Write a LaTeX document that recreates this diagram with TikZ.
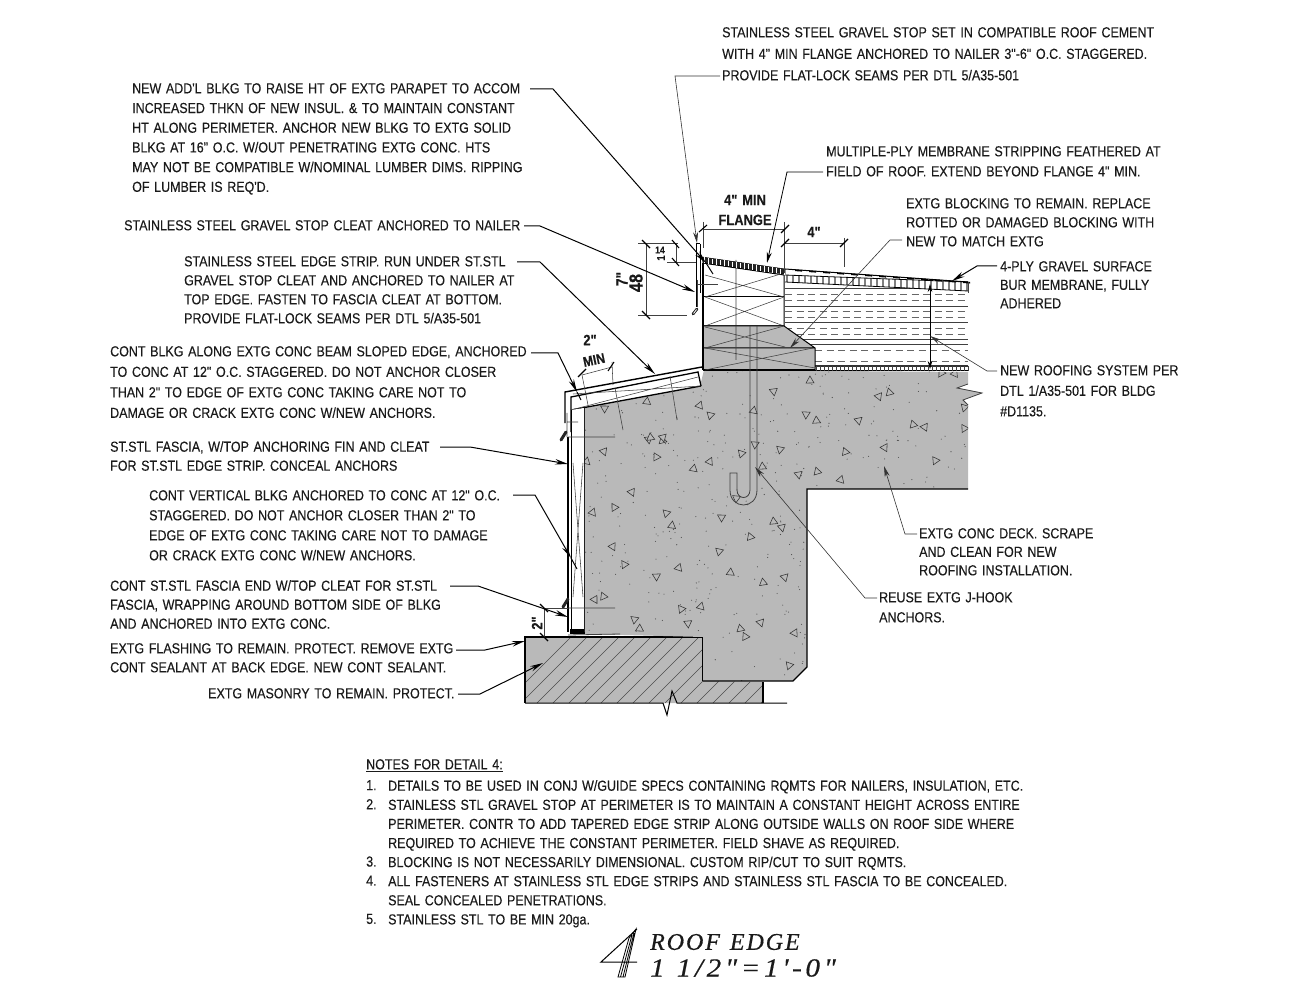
\documentclass[tikz,border=0pt]{standalone}
\usepackage{fontspec}
\usetikzlibrary{arrows.meta,patterns}
\newfontfamily\cadf[FakeStretch=0.86,WordSpace=1.35,FakeBold=0.25]{Liberation Sans}
\newfontfamily\titlef[LetterSpace=8,FakeBold=0.5]{Liberation Serif}
\newfontfamily\titleg[LetterSpace=14,FakeBold=0.5,FakeStretch=1.12]{Liberation Serif}
\definecolor{conc}{HTML}{B9B9B9}
\definecolor{ink}{HTML}{1A1A1A}
\tikzset{
 lbl/.style={anchor=north west,inner sep=0pt,align=left,text=ink,font=\cadf\fontsize{14.5}{#1}\selectfont},
 lbl/.default=19.7,
 dimtxt/.style={inner sep=0pt,text=ink,font=\cadf\bfseries\fontsize{15}{20}\selectfont},
 lead/.style={draw=black,line width=1pt,-{Stealth[length=13pt,width=5.5pt]}},
 thinlead/.style={draw=black!80,line width=.6pt,-{Stealth[length=11pt,width=5pt]}},
 heavy/.style={draw=black,line width=1.7pt},
 med/.style={draw=black,line width=1pt},
 fine/.style={draw=black!75,line width=.55pt},
 dimtick/.style={draw=black,line width=1.1pt},
 tri/.style={draw=black!80,line width=.55pt},
 clipmark/.style={draw=black!85,line width=3pt,line cap=round},
}
\begin{document}
\begin{tikzpicture}[x=1pt,y=-1pt]
\useasboundingbox (0,0) rectangle (1294,1000);
\def\concpath{(704,370) -- (968,372) -- (968,384) -- (957,388) -- (982,393) -- (963,400) -- (968,405) -- (968,489) -- (807,489) -- (807,667) -- (793,681) -- (703,681) -- (703,637) -- (584,634) -- (584,408) -- (700,386) -- cycle}
% masonry
\fill[conc] (525,637) -- (703,637) -- (703,681) -- (763,682) -- (763,703) -- (525,703) -- cycle;
\begin{scope}
\clip (525,637) -- (703,637) -- (703,681) -- (763,682) -- (763,703) -- (525,703) -- cycle;
\foreach \k in {0,16,...,270}{\draw[fine,black!70] (505+\k,703) -- (575+\k,633);}
\end{scope}
\draw[heavy,line width=1.2pt] (525,703) -- (525,637) -- (703,637) -- (703,681) (763,682) -- (763,703);
\draw[med] (525,703) -- (663,703) -- (667,715) -- (672,691) -- (677,703) -- (787,703);
% concrete
\fill[conc] \concpath;
\begin{scope}
\clip \concpath;
\pgfmathsetseed{11}
\foreach \i in {1,...,520}{\pgfmathsetmacro\px{575+rnd*400}\pgfmathsetmacro\py{370+rnd*315}\fill[black!70] (\px,\py) circle[radius=.55pt];}
\foreach \x/\y [count=\i] in {648/439,662/441,604/452,657/457,710/461,741/453,693/469,755/445,763/467,799/474,817/471,631/492,614/508,593/513,667/513,672/525,721/517,773/522,782/528,751/537,613/546,624/564,678/568,719/552,731/573,657/576,763/582,784/577,603/597,595/600,682/609,701/606,634/619,639/629,688/624,741/629,761/622,745/636,794/633,789/666,587/462,737/498,810/380,773/391,889/393,879/397,942/373,955/373,964/407,753/411,806/415,817/421,859/420,913/424,924/427,964/429,700/406,711/415,647/401,604/408,650/438,663/438,846/452,885/447,935/460,840/480,780/450}{
 \pgfmathsetmacro\rr{mod(\i*67,360)}
 \draw[tri,rotate around={\rr:(\x,\y)},fill=conc] (\x-4,\y+3) -- (\x+4,\y+3) -- (\x,\y-4) -- cycle;}
\end{scope}
\draw[med,line width=1.2pt] (968,489) -- (807,489) -- (807,667) -- (793,681) -- (703,681);
\draw[fine,line width=.8pt] (968,384) -- (957,388) -- (982,393) -- (963,400) -- (968,405);
\draw[heavy,line width=1.8pt] (584,408) -- (584,634);
% wedge blocking
\fill[white] (571,397) -- (698,372) -- (700,386) -- (571,410) -- cycle;
\draw[heavy,line width=1.4pt] (565,423) -- (565,392) -- (702,367) -- (704,370);
\draw[heavy,line width=1.3pt] (571,432) -- (571,397) -- (698,372) -- (701,386);
\draw[heavy,line width=1.3pt] (571,410) -- (701,386);
\draw[fine] (571,410) -- (698,377) (573,394) -- (701,386);
\draw[fine] (615,388) -- (623,430) (670,376) -- (677,420) (582,375) -- (588,405);
% vertical blocking
\fill[white] (571,410) -- (584,408) -- (584,632) -- (571,632) -- cycle;
\draw[med,line width=1.3pt] (568,437) -- (568,632);
\draw[med] (571,410) -- (571,632);
\draw[fine] (573,463) -- (583,597) (583,463) -- (573,597) (568,437) -- (615,437) (568,608) -- (615,608) (567,413) -- (567,437) (567,422) -- (578,422);
\fill[black] (570,629) rectangle (584,634);
\draw[fine,line width=.8pt] (568,635) -- (620,634);
\draw[clipmark] (561,440) -- (566,432);
\draw[clipmark] (563,607) -- (568,599);
% insulation
\foreach \yy in {306,322,339,344}{\draw[fine,line width=.9pt] (785,\yy) -- (968,\yy);}
\foreach \yy in {294,300,311,317,328,334}{\draw[fine,black!60,line width=.8pt,dash pattern=on 7pt off 4.5pt] (785,\yy) -- (968,\yy);}
\foreach \yy in {350,361}{\draw[fine,black!60,line width=.8pt,dash pattern=on 7pt off 4.5pt] (815,\yy) -- (968,\yy);}
\draw[fine,line width=.9pt] (785,288) -- (968,288);
\draw[heavy,line width=1.8pt,black!80] (815,366) -- (968,366);
\draw[med] (815,371) -- (968,371);
\foreach \k in {0,4,...,152}{\draw[fine] (816+\k,366) -- (816+\k,371);}
% nailers
\draw[med] (703,263) -- (784,275) -- (784,326) -- (703,326);
\draw[med] (703,297) -- (784,297);
\draw[fine] (705,297) -- (784,273) (705,275) -- (784,297) (705,297) -- (784,326) (705,326) -- (784,297) (736,260) -- (736,360);
% gray tapered block
\fill[conc] (703,326) -- (784,326) -- (815,348) -- (815,370) -- (703,370) -- cycle;
\draw[med] (703,326) -- (784,326) -- (815,348) -- (815,370) (703,348) -- (815,348);
\draw[med,line width=1.2pt] (703,370) -- (815,370);
\draw[fine] (705,327) -- (785,347) (784,326) -- (705,348) (705,348) -- (815,368) (813,348) -- (705,370) (736,326) -- (736,360);
% j-hook
\draw[fine,line width=.8pt] (750,326) -- (750,490) .. controls (750,500) and (737,500) .. (737,490) -- (737,473) -- (730,473) -- (730,490) .. controls (730,510) and (757,510) .. (757,490) -- (757,326);
% parapet edge and stop
\draw[heavy,line width=2pt] (703,263) -- (703,370);
\draw[med] (696,244) -- (696,307) (700,244) -- (700,293) (696,244) -- (700,244);
\draw[fine] (697,280) -- (697,307) (697,284) -- (718,284);
\draw[med,line width=2.8pt,black!85,line cap=round] (693,314) -- (697,309);
\draw[white,line width=.8pt] (693.5,313.5) -- (696.5,309.5);
% membrane
\fill[black!85,draw=black,line width=.5pt] (702,257) -- (785,269) -- (785,274) -- (703,263) -- cycle;
\foreach \k in {0,4,...,80}{\draw[white,line width=.5pt] (704+\k,257.5+.145*\k) -- (704+\k,263+.145*\k);}
\fill[white] (785,275) -- (968,282) -- (968,291) -- (785,282) -- cycle;
\foreach \k in {0,6,...,180}{\draw[black!50,line width=2.2pt] (787+\k,275+.038*\k) -- (787+\k,282+.05*\k);}
\draw[med] (785,269) -- (968,282);
\draw[med,line width=.8pt] (785,275) -- (968,282) (785,282) -- (968,291);
\foreach \k in {0,14,...,168}{\fill[black] (795+\k,269.5+.071*\k) -- ++(7,.5) -- ++(0,1.6) -- ++(-7,-.5) -- cycle;}
\draw[fine] (968,282) -- (968,293);
% dim: 4 min flange
\draw[fine] (703,229) -- (785,229) (703,222) -- (703,248) (784,222) -- (784,273);
\draw[dimtick] (699,232) -- (707,225) (781,233) -- (789,225);
% dim: 4
\draw[fine] (784,243) -- (844,243) (844,238) -- (844,267);
\draw[dimtick] (781,247) -- (789,239) (840,247) -- (848,239);
% dim: left
\draw[fine] (646,243) -- (646,315) (638,243) -- (678,243) (638,315) -- (687,315) (676,243) -- (676,262) (667,262) -- (696,262);
\draw[dimtick] (642,240) -- (650,248) (642,311) -- (650,319) (672,240) -- (679,248) (672,258) -- (679,266);
% dim 2 min
\draw[fine] (582,375) -- (612,367) (612,362) -- (613,385);
\draw[dimtick] (578,377) -- (586,369) (608,371) -- (614,362);
% dim 2 low
\draw[fine] (544,608) -- (544,637) (544,608) -- (568,608);
\draw[dimtick] (540,604) -- (548,612) (540,633) -- (548,641);
% insulation height
\draw[draw=black,line width=.7pt,{Stealth[length=8pt,width=4.5pt]}-{Stealth[length=8pt,width=4.5pt]}] (930,284) -- (930,369);
% dimension texts
\node[dimtxt,align=center] (dA) at (745,210) {4" MIN\\FLANGE};
\node[dimtxt] (dB) at (814,232) {4"};
\node[dimtxt] (dC) at (590,340) {2"};
\node[dimtxt,rotate=12,font=\cadf\bfseries\fontsize{14}{16}\selectfont] (dD) at (594,360) {MIN};
\node[dimtxt,rotate=90] (dE) at (537,623) {2"};
\node[dimtxt,rotate=90,font=\cadf\bfseries\fontsize{16}{18}\selectfont] (dF) at (622,279) {7"};
\node[dimtxt,rotate=90,font=\cadf\bfseries\fontsize{19}{20}\selectfont] (dG) at (636,283) {48};
\node[dimtxt,rotate=90,font=\cadf\bfseries\fontsize{11}{12}\selectfont] (dH) at (661,258) {1};
\node[dimtxt,font=\cadf\bfseries\fontsize{10}{12}\selectfont] (dI) at (660,250) {14};
% labels right / top
\node[lbl=21.5] (n1) at (722,27) {STAINLESS STEEL GRAVEL STOP SET IN COMPATIBLE ROOF CEMENT\\WITH 4" MIN FLANGE ANCHORED TO NAILER 3"-6" O.C. STAGGERED.\\PROVIDE FLAT-LOCK SEAMS PER DTL 5/A35-501};
\node[lbl=20] (n2) at (826,146) {MULTIPLE-PLY MEMBRANE STRIPPING FEATHERED AT\\FIELD OF ROOF. EXTEND BEYOND FLANGE 4" MIN.};
\node[lbl=19] (n3) at (906,198) {EXTG BLOCKING TO REMAIN. REPLACE\\ROTTED OR DAMAGED BLOCKING WITH\\NEW TO MATCH EXTG};
\node[lbl=18.5] (n4) at (1000,261) {4-PLY GRAVEL SURFACE\\BUR MEMBRANE, FULLY\\ADHERED};
\node[lbl=20.5] (n5) at (1000,365) {NEW ROOFING SYSTEM PER\\DTL 1/A35-501 FOR BLDG\\\#D1135.};
\node[lbl=18.5] (n6) at (919,528) {EXTG CONC DECK. SCRAPE\\AND CLEAN FOR NEW\\ROOFING INSTALLATION.};
\node[lbl=20] (n7) at (879,592) {REUSE EXTG J-HOOK\\ANCHORS.};
% labels left
\node[lbl] (n8) at (132,83) {NEW ADD'L BLKG TO RAISE HT OF EXTG PARAPET TO ACCOM\\INCREASED THKN OF NEW INSUL. \& TO MAINTAIN CONSTANT\\HT ALONG PERIMETER. ANCHOR NEW BLKG TO EXTG SOLID\\BLKG AT 16" O.C. W/OUT PENETRATING EXTG CONC. HTS\\MAY NOT BE COMPATIBLE W/NOMINAL LUMBER DIMS. RIPPING\\OF LUMBER IS REQ'D.};
\node[lbl] (n9) at (124,220) {STAINLESS STEEL GRAVEL STOP CLEAT ANCHORED TO NAILER};
\node[lbl=19] (n10) at (184,256) {STAINLESS STEEL EDGE STRIP. RUN UNDER ST.STL\\GRAVEL STOP CLEAT AND ANCHORED TO NAILER AT\\TOP EDGE. FASTEN TO FASCIA CLEAT AT BOTTOM.\\PROVIDE FLAT-LOCK SEAMS PER DTL 5/A35-501};
\node[lbl=20.5] (n11) at (110,346) {CONT BLKG ALONG EXTG CONC BEAM SLOPED EDGE, ANCHORED\\TO CONC AT 12" O.C. STAGGERED. DO NOT ANCHOR CLOSER\\THAN 2" TO EDGE OF EXTG CONC TAKING CARE NOT TO\\DAMAGE OR CRACK EXTG CONC W/NEW ANCHORS.};
\node[lbl=19] (n12) at (110,441) {ST.STL FASCIA, W/TOP ANCHORING FIN AND CLEAT\\FOR ST.STL EDGE STRIP. CONCEAL ANCHORS};
\node[lbl=20] (n13) at (149,490) {CONT VERTICAL BLKG ANCHORED TO CONC AT 12" O.C.\\STAGGERED. DO NOT ANCHOR CLOSER THAN 2" TO\\EDGE OF EXTG CONC TAKING CARE NOT TO DAMAGE\\OR CRACK EXTG CONC W/NEW ANCHORS.};
\node[lbl=19] (n14) at (110,580) {CONT ST.STL FASCIA END W/TOP CLEAT FOR ST.STL\\FASCIA, WRAPPING AROUND BOTTOM SIDE OF BLKG\\AND ANCHORED INTO EXTG CONC.};
\node[lbl=19] (n15) at (110,643) {EXTG FLASHING TO REMAIN. PROTECT. REMOVE EXTG\\CONT SEALANT AT BACK EDGE. NEW CONT SEALANT.};
\node[lbl] (n16) at (208,688) {EXTG MASONRY TO REMAIN. PROTECT.};
% leaders
\coordinate (a1) at (720,76); \coordinate (b1) at (675,76); \coordinate (t1) at (697,243);
\draw[thinlead] (a1) -- (b1) -- (t1);
\coordinate (a2) at (823,172); \coordinate (b2) at (787,172); \coordinate (t2) at (767,263);
\draw[thinlead,draw=black,line width=.8pt] (a2) -- (b2) -- (t2);
\coordinate (a3) at (902,240); \coordinate (b3) at (890,240); \coordinate (t3) at (790,348);
\draw[thinlead] (a3) -- (b3) -- (t3);
\coordinate (a4) at (997,266); \coordinate (b4) at (977,266); \coordinate (t4) at (952,281);
\draw[lead] (a4) -- (b4) -- (t4);
\coordinate (a5) at (997,371); \coordinate (b5) at (987,371); \coordinate (t5) at (930,336);
\draw[thinlead] (a5) -- (b5) -- (t5);
\coordinate (a6) at (917,534); \coordinate (b6) at (905,534); \coordinate (t6) at (884,466);
\draw[thinlead] (a6) -- (b6) -- (t6);
\coordinate (a7) at (877,598); \coordinate (b7) at (865,598); \coordinate (t7) at (755,467);
\draw[thinlead] (a7) -- (b7) -- (t7);
\coordinate (a8) at (530,89); \coordinate (b8) at (553,89); \coordinate (t8) at (706,263); \coordinate (e8) at (713,274);
\draw[lead] (a8) -- (b8) -- (t8);
\draw[med] (t8) -- (e8);
\coordinate (a9) at (524,226); \coordinate (b9) at (540,226); \coordinate (t9) at (695,292);
\draw[lead] (a9) -- (b9) -- (t9);
\coordinate (a10) at (517,262); \coordinate (b10) at (540,262); \coordinate (t10) at (655,374);
\draw[lead] (a10) -- (b10) -- (t10);
\coordinate (a11) at (531,353); \coordinate (b11) at (558,353); \coordinate (t11) at (577,392); \coordinate (e11) at (581,400);
\draw[lead] (a11) -- (b11) -- (t11);
\draw[med] (t11) -- (e11);
\coordinate (a12) at (440,447); \coordinate (b12) at (470,447); \coordinate (t12) at (568,464);
\draw[lead] (a12) -- (b12) -- (t12);
\coordinate (a13) at (513,495); \coordinate (b13) at (535,495); \coordinate (t13) at (571,558); \coordinate (e13) at (577,569);
\draw[lead] (a13) -- (b13) -- (t13);
\draw[med] (t13) -- (e13);
\coordinate (a14) at (450,586); \coordinate (b14) at (478,586); \coordinate (t14) at (568,617);
\draw[lead] (a14) -- (b14) -- (t14);
\coordinate (a15) at (456,650); \coordinate (b15) at (485,650); \coordinate (t15) at (525,641);
\draw[lead] (a15) -- (b15) -- (t15);
\coordinate (a16) at (458,694); \coordinate (b16) at (480,694); \coordinate (t16) at (543,663);
\draw[lead] (a16) -- (b16) -- (t16);
% notes
\node[lbl] (notesH) at (366,759) {\underline{NOTES FOR DETAIL 4:}};
\node[lbl=19.1] (nA) at (366,780) {1.\\2.\\ \\ \\3.\\4.\\ \\5.};
\node[lbl=19.1] (nB) at (388,780) {DETAILS TO BE USED IN CONJ W/GUIDE SPECS CONTAINING RQMTS FOR NAILERS, INSULATION, ETC.\\STAINLESS STL GRAVEL STOP AT PERIMETER IS TO MAINTAIN A CONSTANT HEIGHT ACROSS ENTIRE\\PERIMETER. CONTR TO ADD TAPERED EDGE STRIP ALONG OUTSIDE WALLS ON ROOF SIDE WHERE\\REQUIRED TO ACHIEVE THE CONSTANT PERIMETER. FIELD SHAVE AS REQUIRED.\\BLOCKING IS NOT NECESSARILY DIMENSIONAL. CUSTOM RIP/CUT TO SUIT RQMTS.\\ALL FASTENERS AT STAINLESS STL EDGE STRIPS AND STAINLESS STL FASCIA TO BE CONCEALED.\\SEAL CONCEALED PENETRATIONS.\\STAINLESS STL TO BE MIN 20ga.};
% title
\draw[med] (637,929) -- (601,962) -- (637,962);
\draw[med,line width=.8pt] (636,929) -- (629,938) -- (618,977) -- (625,977) -- cycle (632,935) -- (620.5,977) (634,933) -- (623,977);
\node[anchor=west,inner sep=0pt,text=ink,font=\titlef\itshape\fontsize{24}{26}\selectfont] (t1a) at (650,942) {ROOF\hspace{10pt}EDGE};
\node[anchor=west,inner sep=0pt,text=ink,font=\titleg\itshape\fontsize{26}{26}\selectfont] (t2a) at (650,968) {1\hspace{12pt}1/2"=1'-0"};
\end{tikzpicture}
\end{document}
